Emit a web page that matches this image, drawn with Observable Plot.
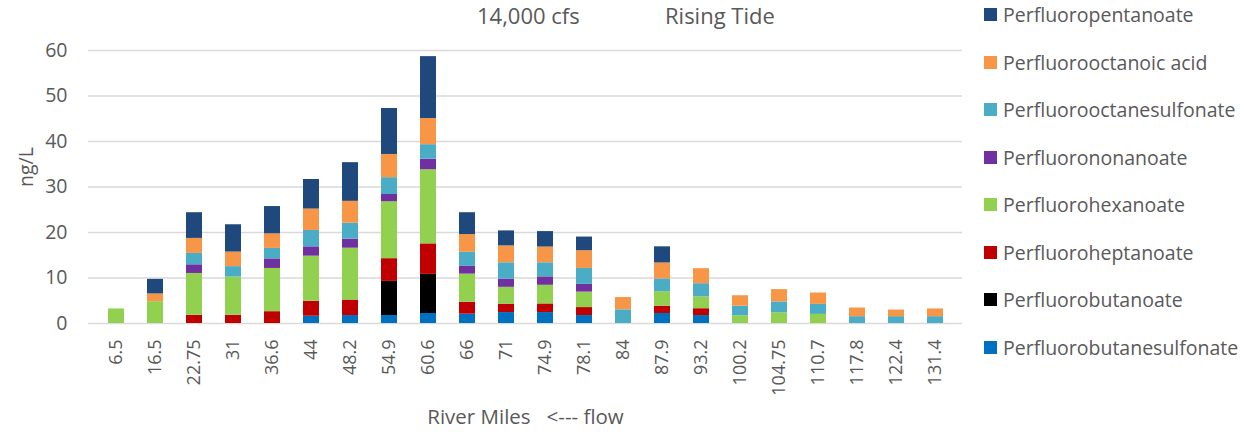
<!DOCTYPE html>
<html>
<head>
<meta charset="utf-8">
<script src="https://cdn.jsdelivr.net/npm/d3@7"></script>
<script src="https://cdn.jsdelivr.net/npm/@observablehq/plot@0.6"></script>
<style>
  body { margin: 0; background: #fff; }
  #wrap { position: relative; width: 1254px; height: 436px; overflow: hidden; font-family: "Open Sans", sans-serif; color: #595959; }
  #chart { position: absolute; left: 0; top: 0; }
  .title { position: absolute; top: 0px; font-size: 22px; line-height: normal; color: #595959; white-space: nowrap; }
  .leg { position: absolute; left: 984px; display: flex; align-items: center; font-size: 19.5px; color: #595959; white-space: nowrap; }
  .leg span.sw { display: inline-block; width: 13px; height: 13px; margin-right: 6px; }
</style>
</head>
<body>
<div id="wrap">
  <div id="chart"></div>
  <div class="title" style="left:477px">14,000 cfs</div>
  <div class="title" style="left:665px">Rising Tide</div>
  <div id="legend"></div>
</div>
<script>
const miles = ["6.5","16.5","22.75","31","36.6","44","48.2","54.9","60.6","66","71","74.9","78.1","84","87.9","93.2","100.2","104.75","110.7","117.8","122.4","131.4"];

// series, stacked bottom to top
const seriesNames = ["Perfluorobutanesulfonate","Perfluorobutanoate","Perfluoroheptanoate","Perfluorohexanoate","Perfluorononanoate","Perfluorooctanesulfonate","Perfluorooctanoic acid","Perfluoropentanoate"];
const seriesColors = ["#0070c0","#000000","#c00000","#92d050","#7030a0","#4bacc6","#f79646","#1f497d"];

const pfbs  = [0,0,0,0,0,1.6,1.75,1.75,2.2,2.05,2.4,2.4,1.75,0,2.2,1.75,0,0,0,0,0,0];
const pfba  = [0,0,0,0,0,0,0,7.5,8.6,0,0,0,0,0,0,0,0,0,0,0,0,0];
const pfhpa = [0,0,1.8,1.8,2.6,3.3,3.4,5.0,6.7,2.6,1.85,1.9,1.75,0,1.6,1.5,0,0,0,0,0,0];
const pfhxa = [3.2,4.8,9.2,8.4,9.5,9.9,11.4,12.5,16.3,6.2,3.7,4.1,3.4,0,3.2,2.6,1.7,2.35,2.0,0,0,0];
const pfna  = [0,0,1.9,0,2.1,2.05,2.0,1.6,2.3,1.7,1.8,1.85,1.7,0,0,0,0,0,0,0,0,0];
const pfos  = [0,0,2.5,2.3,2.3,3.6,3.5,3.7,3.2,3.1,3.6,3.1,3.5,3.0,2.8,2.9,2.1,2.4,2.2,1.5,1.5,1.5];
const pfoa  = [0,1.7,3.3,3.2,3.2,4.7,4.8,5.1,5.75,3.9,3.7,3.45,3.9,2.7,3.5,3.3,2.3,2.7,2.5,1.9,1.45,1.7];
const pfpea = [0,3.2,5.65,6.0,6.0,6.5,8.5,10.1,13.6,4.8,3.3,3.4,3.0,0,3.55,0,0,0,0,0,0,0];

const yTicks = [0,10,20,30,40,50,60];

const seriesValues = [pfbs, pfba, pfhpa, pfhxa, pfna, pfos, pfoa, pfpea];
const data = [];
seriesNames.forEach((name, si) => {
  miles.forEach((m, i) => data.push({mile: m, series: name, value: seriesValues[si][i]}));
});

const chart = Plot.plot({
  width: 975,
  height: 436,
  marginTop: 50,
  marginBottom: 113,
  marginLeft: 88,
  marginRight: 13,
  style: {fontFamily: "Open Sans, sans-serif", color: "#595959", background: "transparent"},
  x: {domain: miles, paddingInner: 0.6, paddingOuter: 0.3, label: null},
  y: {domain: [0, 60], label: null},
  color: {domain: seriesNames, range: seriesColors},
  marks: [
    Plot.ruleY(yTicks, {stroke: "#d9d9d9", strokeWidth: 1.4}),
    Plot.barY(data, {x: "mile", y: "value", fill: "series", order: null}),
    Plot.axisY({ticks: yTicks, tickSize: 0, tickPadding: 21, fontSize: 19.5, label: null}),
    Plot.axisX({tickSize: 0, tickPadding: 16, tickRotate: -90, fontSize: 18, label: null}),
    Plot.text(["ng/L"], {frameAnchor: "left", dx: -62, rotate: -90, fontSize: 19.5, fill: "#595959"}),
    Plot.text(["River Miles   <--- flow"], {frameAnchor: "bottom", dy: 100, fontSize: 20.5, fill: "#595959"})
  ]
});
document.getElementById("chart").appendChild(chart);

const legend = document.getElementById("legend");
const legOrder = seriesNames.map((n, i) => i).reverse();
legOrder.forEach((si, row) => {
  const d = document.createElement("div");
  d.className = "leg";
  d.style.top = (14.7 + 47.5 * row - 13) + "px";
  d.style.height = "26px";
  d.innerHTML = `<span class="sw" style="background:${seriesColors[si]}"></span>${seriesNames[si]}`;
  legend.appendChild(d);
});
</script>
</body>
</html>
